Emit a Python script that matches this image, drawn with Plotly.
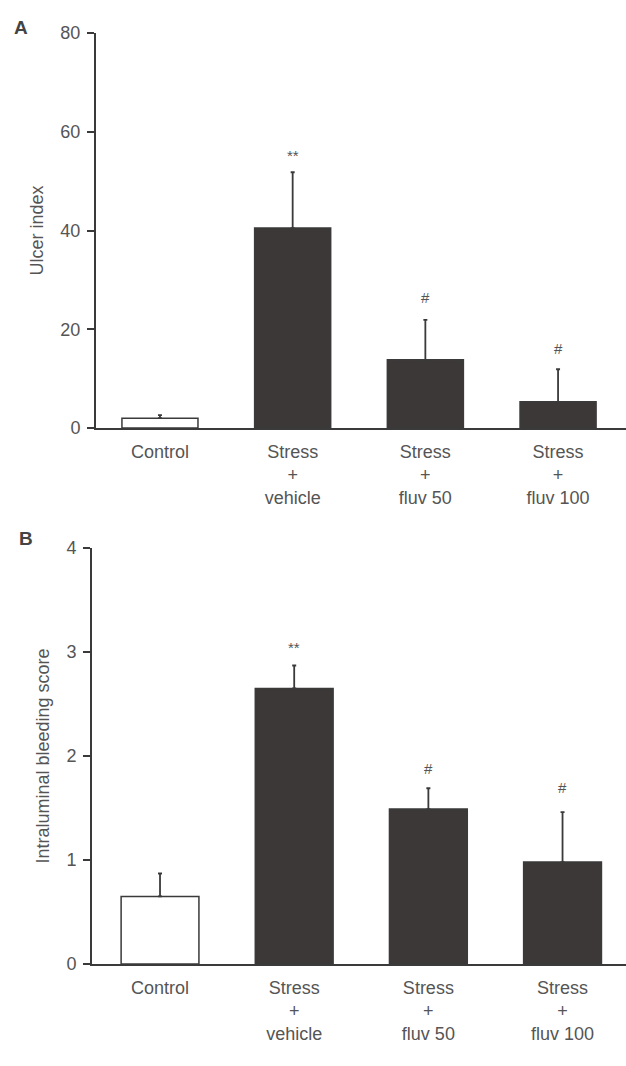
import plotly.graph_objects as go

# ---- data ----
categories = ["Control", "Stress<br>+<br>vehicle", "Stress<br>+<br>fluv 50", "Stress<br>+<br>fluv 100"]
ulcer_mean = [2.0, 40.5, 13.8, 5.3]
ulcer_sem = [0.6, 11.3, 8.1, 6.6]
ulcer_marks = ["", "**", "#", "#"]
ulcer_mark_y = [None, 55.1, 26.5, 16.2]

bleed_mean = [0.65, 2.65, 1.49, 0.98]
bleed_sem = [0.22, 0.22, 0.20, 0.48]
bleed_marks = ["", "**", "#", "#"]
bleed_mark_y = [None, 3.04, 1.88, 1.70]

bar_fill = ["white", "#3d3838", "#3d3838", "#3d3838"]

W, H = 626, 1066
INK = "#3a3a3a"
TXT = "#555555"
FONT = "Liberation Sans"

fig = go.Figure()

fig.add_trace(go.Bar(
    x=categories, y=ulcer_mean, xaxis="x", yaxis="y",
    width=0.573,
    marker=dict(color=bar_fill, line=dict(color=INK, width=1.5)),
    error_y=dict(type="data", array=ulcer_sem, arrayminus=[0]*4, symmetric=False,
                 color=INK, thickness=1.8, width=2),
    showlegend=False,
))
fig.add_trace(go.Bar(
    x=categories, y=bleed_mean, xaxis="x2", yaxis="y2",
    width=0.58,
    marker=dict(color=bar_fill, line=dict(color=INK, width=1.5)),
    error_y=dict(type="data", array=bleed_sem, arrayminus=[0]*4, symmetric=False,
                 color=INK, thickness=1.8, width=2),
    showlegend=False,
))

annotations = []
for c, m, yy in zip(categories, ulcer_marks, ulcer_mark_y):
    if m:
        annotations.append(dict(x=c, y=yy, xref="x", yref="y", text=m, showarrow=False,
                                font=dict(family=FONT, size=15, color=TXT)))
for c, m, yy in zip(categories, bleed_marks, bleed_mark_y):
    if m:
        annotations.append(dict(x=c, y=yy, xref="x2", yref="y2", text=m, showarrow=False,
                                font=dict(family=FONT, size=15, color=TXT)))

annotations.append(dict(x=21 / W, y=1 - 27 / H, xref="paper", yref="paper", text="<b>A</b>",
                        xanchor="center", yanchor="middle",
                        showarrow=False, font=dict(family=FONT, size=19, color="#444444")))
annotations.append(dict(x=26 / W, y=1 - 538 / H, xref="paper", yref="paper", text="<b>B</b>",
                        xanchor="center", yanchor="middle",
                        showarrow=False, font=dict(family=FONT, size=19, color="#444444")))

xcommon = dict(showline=True, linecolor=INK, linewidth=2, ticks="", showgrid=False,
               zeroline=False, tickfont=dict(family=FONT, size=18, color=TXT),
               ticklabelstandoff=6, automargin=False)
ycommon = dict(showline=True, linecolor=INK, linewidth=2, ticks="outside", ticklen=7,
               tickwidth=2, tickcolor=INK, showgrid=False, zeroline=False,
               tickfont=dict(family=FONT, size=18, color=TXT), ticklabelstandoff=3,
               automargin=False)

fig.update_layout(
    width=W, height=H,
    margin=dict(l=0, r=0, t=0, b=0, autoexpand=False),
    paper_bgcolor="white", plot_bgcolor="white",
    bargap=0.4,
    xaxis=dict(domain=[96 / W, 1.0], anchor="y", range=[-0.482, 3.512], **xcommon),
    yaxis=dict(domain=[1 - 428 / H, 1 - 33 / H], anchor="x", range=[0, 80],
               tickvals=[0, 20, 40, 60, 80],
               title=dict(text="Ulcer index", font=dict(family=FONT, size=18, color=TXT), standoff=12),
               **ycommon),
    xaxis2=dict(domain=[92 / W, 1.0], anchor="y2", range=[-0.507, 3.473], **xcommon),
    yaxis2=dict(domain=[1 - 964 / H, 1 - 548 / H], anchor="x2", range=[0, 4],
                tickvals=[0, 1, 2, 3, 4],
                title=dict(text="Intraluminal bleeding score", font=dict(family=FONT, size=18, color=TXT), standoff=12),
                **ycommon),
    annotations=annotations,
)

fig.write_html("out.html", config={"displayModeBar": False},
               post_script="document.body.style.margin='0';document.body.style.overflow='hidden';")
